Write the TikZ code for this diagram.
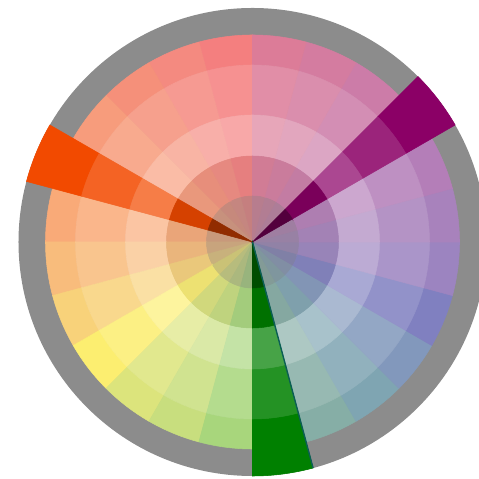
\documentclass[tikz,border=0pt]{standalone}

% one cell of the wheel: start angle, inner radius, outer radius, colour
\newcommand{\wheelcell}[4]{%
  \fill[#4, draw=#4, line width=0.3pt] (#1:#2) -- (#1:#3)
    arc[start angle=#1, delta angle=15, radius=#3] -- ({#1+15}:#2)
    arc[start angle={#1+15}, delta angle=-15, radius=#2] -- cycle;}

\begin{document}
\begin{tikzpicture}[scale=0.2]

\definecolor{cRing}{HTML}{8C8C8C}
\definecolor{cEdge}{HTML}{0B5E55}

\useasboundingbox (-25.25,-23.7) rectangle (22.65,24.2);
\clip (-25.25,-23.7) rectangle (22.65,24.2);

%% ---------- the grey ring ----------
\fill[cRing] (0,0) circle[radius=23.4];

%% ---------- the wheel, 24 hues ----------
\foreach \a/\hex in {90/F47F7F, 105/F48A80, 120/F5907A, 135/F79C7C,
                     165/F9AA78, 180/F8BC7C, 195/F8D27A, 210/FCEE70,
                     225/DCE47C, 240/C8DE7E, 255/A8D67C, 285/86AEA6,
                     300/7FA5B2, 315/8298BC, 330/8080C0, 345/9C84C0,
                     0/A882BC, 15/B47EB8, 45/CC7CA8, 60/D47CA0, 75/DC7C98}{
  \definecolor{cBase}{HTML}{\hex}
  \wheelcell{\a}{17.7}{20.7}{cBase}
  \wheelcell{\a}{12.7}{17.7}{cBase!86!white}
  \wheelcell{\a}{8.6}{12.7}{cBase!68!white}
  \wheelcell{\a}{4.6}{8.6}{cBase!88!gray}
  \wheelcell{\a}{0}{4.6}{cBase!60!gray}
}

%% ---------- the triad, out to the rim ----------
\foreach \a/\hex in {150/F24A00, 30/8B0066, 270/008000}{
  \definecolor{cBase}{HTML}{\hex}
  \wheelcell{\a}{17.7}{23.4}{cBase}
  \wheelcell{\a}{12.7}{17.7}{cBase!86!white}
  \wheelcell{\a}{8.6}{12.7}{cBase!72!white}
  \wheelcell{\a}{4.6}{8.6}{cBase!88!black}
  \wheelcell{\a}{0}{4.6}{cBase!60!black}
}

\coordinate (hub) at (0,0);
\coordinate (rim) at (285:23.4);
\draw[cEdge, line width=0.8pt] (hub) -- (rim);

\end{tikzpicture}
\end{document}
